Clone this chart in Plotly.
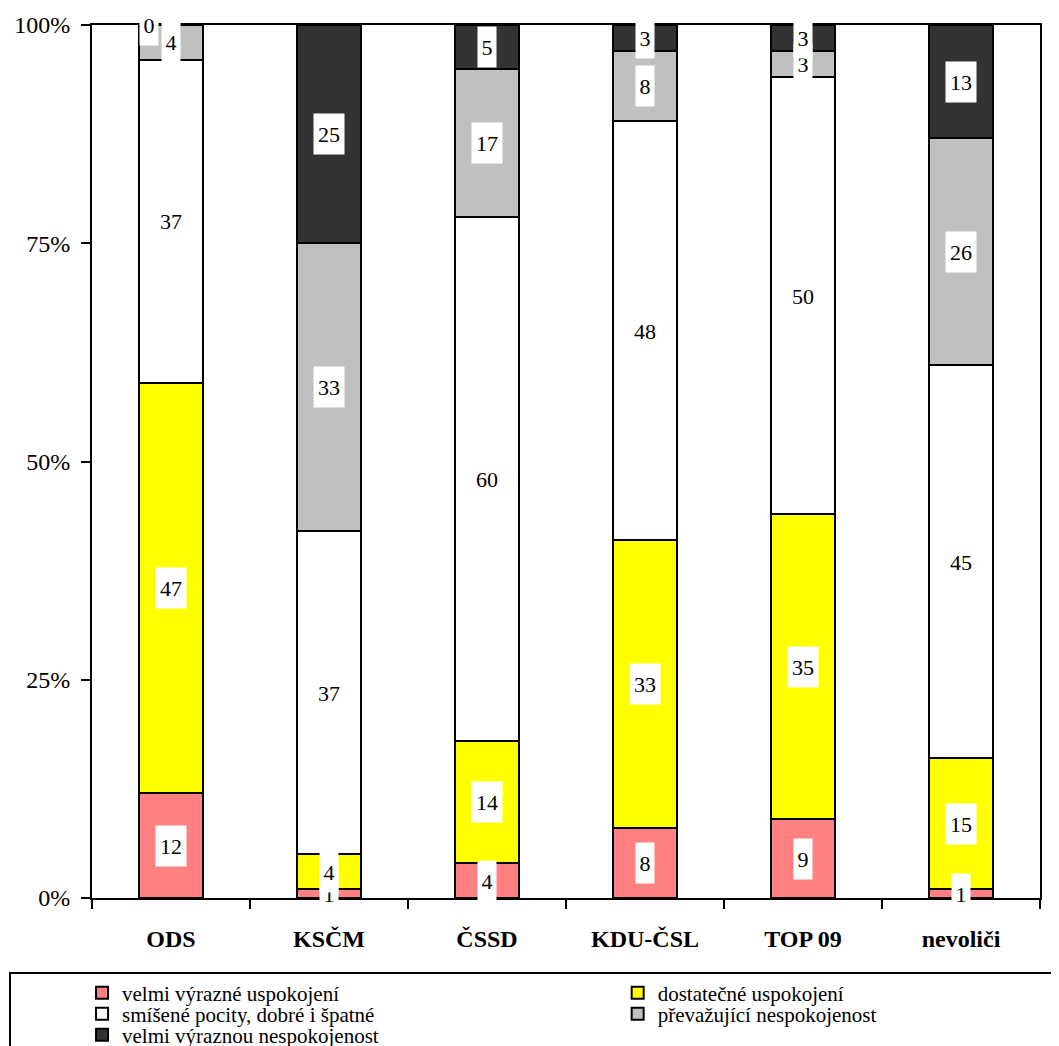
import plotly.graph_objects as go

categories = ["ODS", "KSČM", "ČSSD", "KDU-ČSL", "TOP 09", "nevoliči"]
series_names = [
    "velmi výrazné uspokojení",
    "dostatečné uspokojení",
    "smíšené pocity, dobré i špatné",
    "převažující nespokojenost",
    "velmi výraznou nespokojenost",
]
velmi_vyrazne_uspokojeni = [12, 1, 4, 8, 9, 1]
dostatecne_uspokojeni = [47, 4, 14, 33, 35, 15]
smisene_pocity = [37, 37, 60, 48, 50, 45]
prevazujici_nespokojenost = [4, 33, 17, 8, 3, 26]
velmi_vyraznou_nespokojenost = [0, 25, 5, 3, 3, 13]
tick_values = [0, 25, 50, 75, 100]
tick_labels = ["0%", "25%", "50%", "75%", "100%"]

series_values = [
    velmi_vyrazne_uspokojeni,
    dostatecne_uspokojeni,
    smisene_pocity,
    prevazujici_nespokojenost,
    velmi_vyraznou_nespokojenost,
]
colors = ["#FF8080", "#FFFF00", "#FFFFFF", "#C0C0C0", "#333333"]

FONT = "Liberation Serif"

# legend layout: (column, row) of each series in the boxed legend
legend_cells = [(0, 0), (1, 0), (0, 1), (1, 1), (0, 2)]
col_x = [-0.0105, 0.5545]
row_y = [-0.1088, -0.1329, -0.1570]

fig = go.Figure()
for i, (name, vals, col) in enumerate(zip(series_names, series_values, colors)):
    lg = "legend" if i == 0 else f"legend{i + 1}"
    fig.add_trace(go.Bar(
        x=categories, y=vals, name=name,
        marker=dict(color=col, line=dict(color="black", width=2)),
        legend=lg, hoverinfo="skip",
    ))

# data labels with white boxes
label_xshift = {(0, 4): -22}
annotations = []
base = [0] * len(categories)
for i, vals in enumerate(series_values):
    for j, v in enumerate(vals):
        mid = base[j] + v / 2
        txt = str(v)
        annotations.append(dict(
            x=categories[j], y=mid, xref="x", yref="y", text=txt,
            showarrow=False, bgcolor="white",
            width=12 * len(txt) + 4, height=38,
            xshift=label_xshift.get((j, i), 0),
            font=dict(family=FONT, size=22, color="black"),
        ))
        base[j] += v

layout_legends = {}
for i, (c, r) in enumerate(legend_cells):
    key = "legend" if i == 0 else f"legend{i + 1}"
    layout_legends[key] = dict(
        x=col_x[c], y=row_y[r], xref="paper", yref="paper",
        xanchor="left", yanchor="middle",
        bgcolor="rgba(0,0,0,0)", borderwidth=0,
        font=dict(family=FONT, size=21, color="black"),
        orientation="h",
    )

fig.update_layout(
    width=1051, height=1038,
    barmode="stack", bargap=0.595,
    plot_bgcolor="white", paper_bgcolor="white",
    margin=dict(l=84, r=19, t=17, b=148, autoexpand=False),
    annotations=annotations,
    showlegend=True,
    font=dict(family=FONT, color="black"),
    shapes=[dict(
        type="rect", xref="paper", yref="paper",
        x0=-0.0865, x1=1.03, y0=-0.0859, y1=-0.18,
        line=dict(color="black", width=2), fillcolor="rgba(0,0,0,0)",
    )],
    **layout_legends,
)
fig.update_yaxes(
    range=[0, 100], tickvals=tick_values, ticktext=tick_labels,
    showgrid=False, zeroline=False,
    showline=True, linecolor="black", linewidth=2, mirror=True,
    ticks="outside", ticklen=9, tickwidth=2, tickcolor="black",
    ticklabelstandoff=6,
    tickfont=dict(family=FONT, size=24, color="black"),
)
fig.update_xaxes(
    showgrid=False, showline=True, linecolor="black", linewidth=2, mirror=True,
    ticks="outside", ticklen=9, tickwidth=2, tickcolor="black",
    tickson="boundaries", ticklabelstandoff=18,
    tickfont=dict(family=FONT, size=24, color="black", weight="bold"),
)

fig.write_html("out.html")
